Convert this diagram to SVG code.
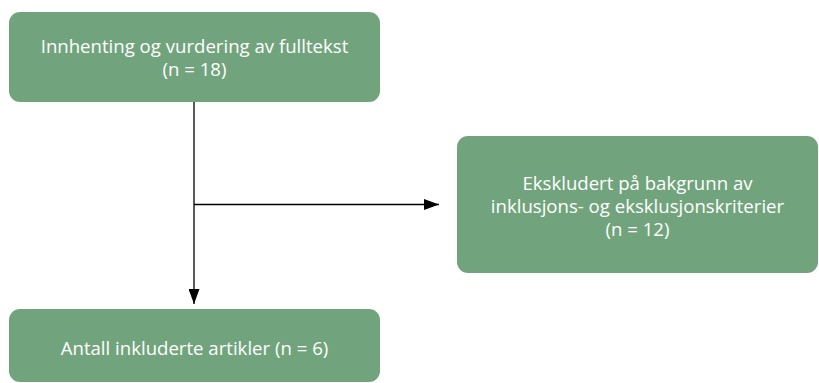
<svg xmlns="http://www.w3.org/2000/svg" width="819" height="383" viewBox="0 0 819 383">
<style>
.box{fill:#71a47c;}
.t{fill:#ffffff;font-family:"Open Sans","Liberation Sans",sans-serif;font-size:18.6px;text-anchor:middle;}
.ln{stroke:#000;stroke-width:1.3;fill:none;}
</style>
<defs>
<marker id="ah" viewBox="0 0 15 11" refX="15" refY="5.5" markerWidth="15" markerHeight="11" markerUnits="userSpaceOnUse" orient="auto">
<path d="M0,0 L15,5.5 L0,11 Z" fill="#000"/>
</marker>
</defs>
<g id="connectors">
<line class="ln" x1="194" y1="102" x2="194" y2="304" marker-end="url(#ah)"/>
<line class="ln" x1="194" y1="204.5" x2="439" y2="204.5" marker-end="url(#ah)"/>
</g>
<g id="n1">
<rect class="box" x="9" y="12" width="371" height="90" rx="11"/>
<text class="t" x="194.5" y="52.5">Innhenting og vurdering av fulltekst</text>
<text class="t" x="194.5" y="75.5">(n = 18)</text>
</g>
<g id="n2">
<rect class="box" x="457" y="136" width="361" height="137" rx="11"/>
<text class="t" x="637.5" y="190">Ekskludert på bakgrunn av</text>
<text class="t" x="637.5" y="213">inklusjons- og eksklusjonskriterier</text>
<text class="t" x="637.5" y="236">(n = 12)</text>
</g>
<g id="n3">
<rect class="box" x="9" y="309" width="371" height="73" rx="11"/>
<text class="t" x="194.5" y="355">Antall inkluderte artikler (n = 6)</text>
</g>
</svg>
